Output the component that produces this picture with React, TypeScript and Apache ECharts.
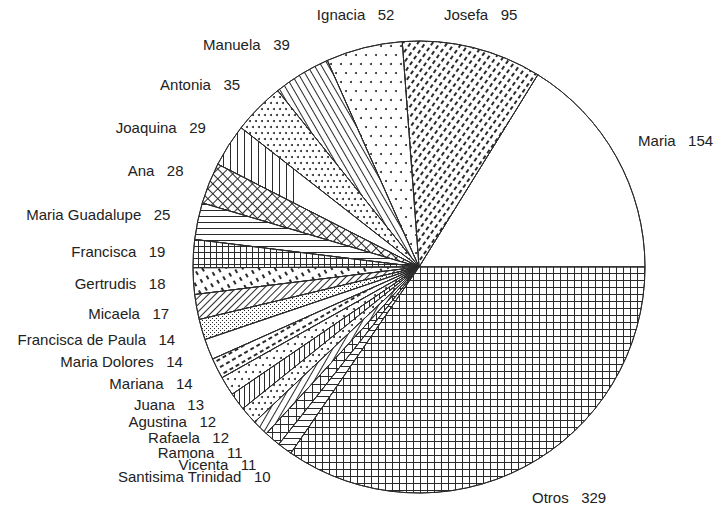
import React, { useEffect, useRef } from 'react';
import * as echarts from 'echarts';

// ---- data ----
const names: string[] = [
  'Maria', 'Josefa', 'Ignacia', 'Manuela', 'Antonia', 'Joaquina', 'Ana',
  'Maria Guadalupe', 'Francisca', 'Gertrudis', 'Micaela', 'Francisca de Paula',
  'Maria Dolores', 'Mariana', 'Juana', 'Agustina', 'Rafaela', 'Ramona',
  'Vicenta', 'Santisima Trinidad', 'Otros',
];
const counts: number[] = [
  154, 95, 52, 39, 35, 29, 28,
  25, 19, 18, 17, 14,
  14, 14, 13, 12, 12, 11,
  11, 10, 329,
];

// ---- styles ----
const INK = '#2a2a2a';
const deg = (d: number) => (d * Math.PI) / 180;

const lines = (gap: number, rot: number) => ({
  symbol: 'rect', symbolSize: 1, dashArrayX: [1, 0], dashArrayY: [1, gap], rotation: rot, color: INK,
});
// an "L" shaped cell (top edge + left edge) tiles into a square grid
const grid = (cell: number, rot = 0) => ({
  symbol: `path://M0,0H${cell}V1H0Z M0,1H1V${cell}H0Z`,
  symbolSize: 1, symbolKeepAspect: false,
  dashArrayX: [cell, 0], dashArrayY: [cell, 0], rotation: rot, color: INK,
});
const dots = (total: number, gapY: number) => ({
  symbol: 'circle', symbolSize: 1,
  dashArrayX: [[2, total - 2], [0, Math.floor(total / 2), 2, total - Math.floor(total / 2) - 2]],
  dashArrayY: [2, gapY], rotation: 0, color: INK,
});
const dashes = (len: number, gapX: number, gapY: number, rot: number) => ({
  symbol: 'rect', symbolSize: 1, dashArrayX: [len, gapX], dashArrayY: [1.5, gapY], rotation: rot, color: INK,
});
const none = { symbol: 'none' };

const patterns: any[] = [
  none,                       // Maria
  dashes(4, 3, 4, deg(-55)),  // Josefa
  dots(10, 7),                // Ignacia
  lines(5, deg(60)),          // Manuela
  dots(6, 4),                 // Antonia
  lines(6, deg(90)),          // Joaquina
  grid(7, deg(45)),           // Ana
  lines(5, 0),                // Maria Guadalupe
  grid(6),                    // Francisca
  dashes(4, 5, 5, deg(60)),   // Gertrudis
  lines(4, deg(-45)),         // Micaela
  { symbol: 'rect', symbolSize: 1, dashArrayX: [[1, 3], [0, 2, 1, 1]], dashArrayY: [1, 1], color: INK }, // Francisca de Paula
  none,                       // Maria Dolores
  dashes(4, 3, 5, deg(-30)),  // Mariana
  dots(7, 5),                 // Juana
  lines(4, deg(90)),          // Agustina
  dots(6, 4),                 // Rafaela
  lines(5, deg(-60)),         // Ramona
  grid(8),                    // Vicenta
  lines(5, 0),                // Santisima Trinidad
  grid(7),                    // Otros
];

const CX = 419;
const CY = 267;
const R = 226;
const LABEL_R = 260;

export default function App() {
  const ref = useRef<HTMLDivElement>(null);
  useEffect(() => {
    if (!ref.current) return;
    const chart = echarts.init(ref.current, undefined, { renderer: 'svg' });
    const total = counts.reduce((a, b) => a + b, 0);
    const mids: number[] = [];
    let cum = 0;
    counts.forEach((c) => {
      mids.push(((cum + c / 2) / total) * Math.PI * 2);
      cum += c;
    });
    chart.setOption({
      animation: false,
      backgroundColor: '#ffffff',
      series: [
        {
          type: 'pie',
          center: [CX, CY],
          radius: R,
          startAngle: 0,
          clockwise: false,
          avoidLabelOverlap: false,
          silent: true,
          data: names.map((n, i) => ({
            name: n,
            value: counts[i],
            itemStyle: { color: '#ffffff', borderColor: INK, borderWidth: 1, decal: patterns[i] },
          })),
          label: {
            show: true,
            position: 'outside',
            formatter: '{b}   {c}',
            color: '#222',
            fontSize: 15,
            fontFamily: '"Liberation Sans", Arial, sans-serif',
          },
          labelLine: { show: false },
          labelLayout: (p: any) => {
            const a = mids[p.dataIndex];
            const c = Math.cos(a);
            const s = Math.sin(a);
            const px = CX + LABEL_R * c;
            const py = CY - LABEL_R * s;
            if (c > 0.4) return { x: px - 8, y: py, align: 'left', verticalAlign: 'middle' };
            if (c < -0.4) return { x: px + 6, y: py, align: 'right', verticalAlign: 'middle' };
            return { x: px, y: py, align: 'center', verticalAlign: 'middle' };
          },
        },
      ],
    });
    return () => chart.dispose();
  }, []);
  return (
    <div
      ref={ref}
      style={{ position: 'absolute', left: 0, top: 0, width: 718, height: 505 }}
    />
  );
}
